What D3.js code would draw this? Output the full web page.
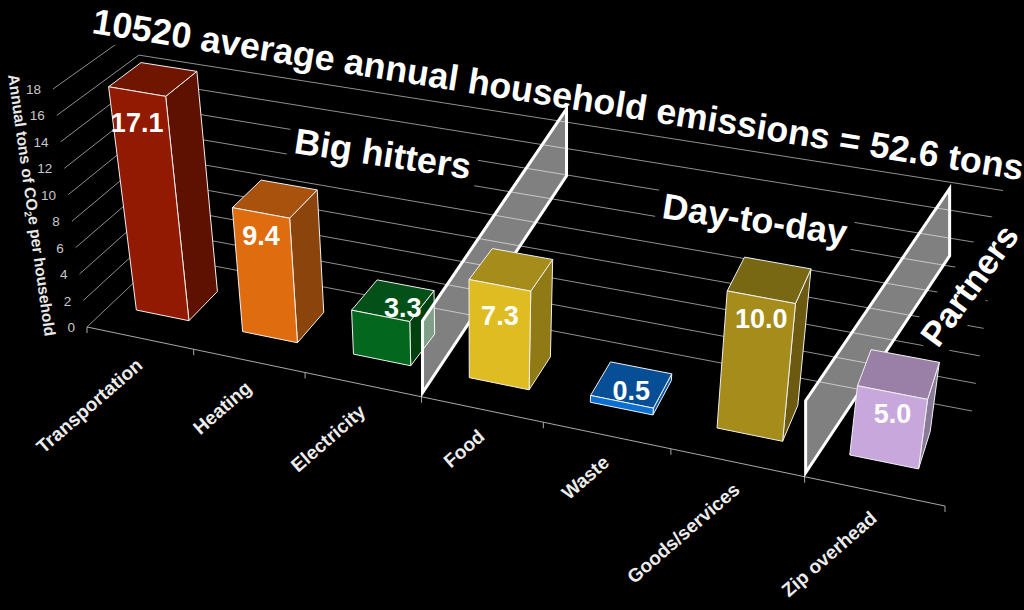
<!DOCTYPE html>
<html><head><meta charset="utf-8">
<script src="https://cdn.jsdelivr.net/npm/d3@7"></script>
<style>html,body{margin:0;padding:0;background:#000}svg{display:block}text{font-family:"Liberation Sans",Arial,sans-serif}</style>
</head><body><svg id="c" width="1024" height="610"></svg>
<script>
const categories=["Transportation","Heating","Electricity","Food","Waste","Goods/services","Zip overhead"];
const values=[17.1,9.4,3.3,7.3,0.5,10.0,5.0];
const frontColors=["#921a02","#e06c10","#03671e","#dfbd22","#0a6fd0","#a68c1a","#c8a8dc"];
const topColors=["#701500","#a8520e","#035018","#a68c1a","#064f96","#786814","#9a80a6"];
const sideColors=["#5f1100","#8a440c","#034010","#8f7a16","#0a5aa8","#6b5a10","#8a7a9a"];
const yTicks=[0,2,4,6,8,10,12,14,16,18];
const titleText="10520 average annual household emissions = 52.6 tons";
const groupLabels=["Big hitters","Day-to-day","Partners"];

const svg=d3.select("#c");
function quad(p){
  const [[x0,y0],[x1,y1],[x2,y2],[x3,y3]]=p;
  const dx1=x1-x2,dx2=x3-x2,sx=x0-x1+x2-x3,dy1=y1-y2,dy2=y3-y2,sy=y0-y1+y2-y3;
  const den=dx1*dy2-dx2*dy1,g=(sx*dy2-dx2*sy)/den,h=(dx1*sy-sx*dy1)/den;
  const a=x1-x0+g*x1,b=x3-x0+h*x3,d=y1-y0+g*y1,e=y3-y0+h*y3;
  return (u,v)=>{const w=g*u+h*v+1;return [(a*u+b*v+x0)/w,(d*u+e*v+y0)/w];};
}
const floorP=quad([[87,327],[945,506],[972,411],[162,256]]);
const uScale=d3.scaleLinear().domain([0,categories.length]).range([0,1]);
const hScale=d3.scaleLinear().domain([0,18]).range([0,1]);
const offF=[[-34,-238],[35,-252]],offB=[[-26,-226],[35,-248]];
function P(u,v,h){
  const a=floorP(uScale(u),v),s=uScale(u),t=hScale(h);
  const ox=(offF[0][0]*(1-s)+offF[1][0]*s)*(1-v)+(offB[0][0]*(1-s)+offB[1][0]*s)*v;
  const oy=(offF[0][1]*(1-s)+offF[1][1]*s)*(1-v)+(offB[0][1]*(1-s)+offB[1][1]*s)*v;
  return [a[0]+ox*t,a[1]+oy*t];
}
const line=d3.line();
const poly=pts=>line(pts)+"Z";
const n=categories.length;

const grid=svg.append("g").attr("fill","none").attr("stroke","#8f8f8f").attr("stroke-width",1);
yTicks.forEach(t=>{grid.append("path").attr("d",line([P(0,0,t),P(0,1,t),P(n,1,t)]));});
grid.append("path").attr("d",line([P(0,0,0),P(n,0,0)])).attr("stroke","#a8a8a8");
d3.range(n+1).forEach(i=>{const p=P(i,0,0);grid.append("path").attr("d",line([p,[p[0],p[1]+6]])).attr("stroke","#a8a8a8");});

const late=[];
function boxedText(txt,x,y,rot,size,pad){
  const tr=`translate(${x},${y}) rotate(${rot})`;
  const g=svg.append("g").attr("transform",tr);
  const r=g.append("rect").attr("fill","#000");
  const t=g.append("text").text(txt).attr("font-weight","bold").attr("font-size",size).attr("fill","none");
  const b=t.node().getBBox();
  r.attr("x",b.x-pad).attr("y",b.y+3-pad).attr("width",b.width+2*pad).attr("height",b.height-6+2*pad);
  t.remove();
  late.push(()=>svg.append("text").attr("transform",tr).text(txt).attr("fill","#fff").attr("font-weight","bold").attr("font-size",size));
}
boxedText(titleText,91,33,9,35.8,3);
boxedText(groupLabels[0],293,153,8.5,36,6);
boxedText(groupLabels[1],661,218,8.5,36,6);
boxedText(groupLabels[2],938,349,-54,34.5,6);

yTicks.forEach(t=>{
  const p=P(0,0,t);
  svg.append("text").text(t).attr("x",p[0]-12).attr("y",p[1]+5).attr("text-anchor","end")
    .attr("font-size",13.5).attr("fill","#c8c8c8");
});
const yt=svg.append("text").attr("transform","translate(8,75) rotate(82)")
  .attr("font-size",15.7).attr("font-weight","bold").attr("fill","#e8e8e8");
yt.append("tspan").text("Annual tons of CO");
yt.append("tspan").text("2").attr("font-size",10).attr("dy",3);
yt.append("tspan").text("e per household").attr("dy",-3);

categories.forEach((c,i)=>{
  const p=P(i+0.5,0,0);
  svg.append("text").text(c).attr("transform",`translate(${p[0]+4},${p[1]+29}) rotate(-41)`)
    .attr("text-anchor","end").attr("font-size",19).attr("font-weight","bold").attr("fill","#ececec");
});

const dividerShape=[[1,-4],[1,-76],[145,-288],[145,-221]];
function divider(i){
  const a=P(i,0,0);
  svg.append("path").attr("d",poly(dividerShape.map(d=>[a[0]+d[0],a[1]+d[1]])))
    .attr("fill","rgba(255,255,255,0.5)").attr("stroke","#fff").attr("stroke-width",3);
}

const gapU=0.25,v0=0.30,v1=0.70;
const labelDrop=[27,19,0,27,0,18,17];
function bar(i){
  const val=values[i],l=i+gapU,r=i+1-gapU;
  const fb=P(l,v0,0),fr=P(r,v0,0),br=P(r,v1,0);
  const ft=P(l,v0,val),frt=P(r,v0,val),brt=P(r,v1,val),blt=P(l,v1,val);
  const g=svg.append("g").attr("stroke","#f0f0f0").attr("stroke-width",1).attr("stroke-linejoin","round");
  g.append("path").attr("d",poly([fr,br,brt,frt])).attr("fill",sideColors[i]);
  g.append("path").attr("d",poly([ft,frt,brt,blt])).attr("fill",topColors[i]);
  g.append("path").attr("d",poly([fb,fr,frt,ft])).attr("fill",frontColors[i]);
  let lx,ly;
  if(val<4){
    lx=(ft[0]+brt[0])/2+(val<1?0:10); ly=(ft[1]+brt[1])/2+(val<1?2:4);
  } else {
    lx=(ft[0]+frt[0])/2; ly=(ft[1]+frt[1])/2+labelDrop[i];
  }
  svg.append("text").text(val.toFixed(1)).attr("x",lx).attr("y",ly+13)
    .attr("text-anchor","middle").attr("font-size",27).attr("font-weight","bold").attr("fill","#fff");
}
[0,1,2].forEach(bar); divider(3); [3,4,5].forEach(bar); divider(6); bar(6);
late.forEach(f=>f());
</script></body></html>
